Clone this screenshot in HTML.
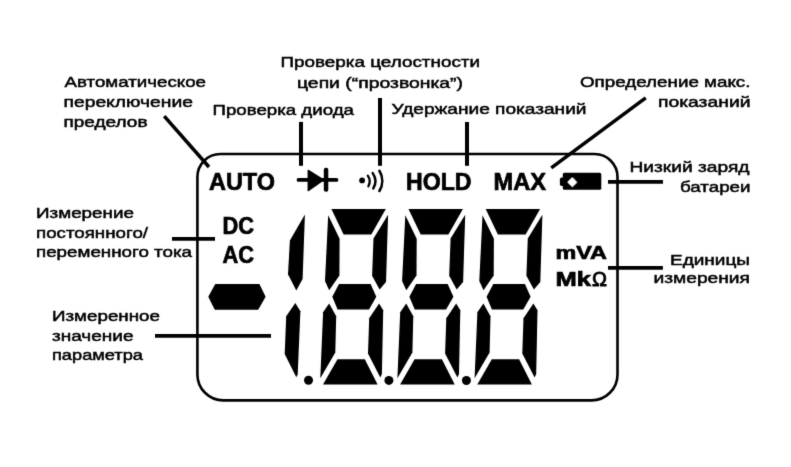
<!DOCTYPE html>
<html><head><meta charset="utf-8">
<style>
html,body{margin:0;padding:0;background:#fff;}
body{width:791px;height:467px;overflow:hidden;}
svg{display:block;}
.lb{font-family:"Liberation Sans",sans-serif;font-weight:normal;fill:#000;stroke:#000;stroke-width:0.5px;}
.lcd{font-family:"Liberation Sans",sans-serif;font-weight:bold;fill:#000;stroke:#000;stroke-width:0.7px;}
.om{font-family:"Liberation Sans",sans-serif;font-weight:normal;fill:#000;stroke:#000;stroke-width:0.9px;}
</style></head>
<body>
<svg width="791" height="467" viewBox="0 0 791 467">
<defs><filter id="soft" x="0" y="0" width="791" height="467" filterUnits="userSpaceOnUse"><feConvolveMatrix order="3" kernelMatrix="0.0114 0.0842 0.0114 0.0842 0.619 0.0842 0.0114 0.0842 0.0114" edgeMode="duplicate" preserveAlpha="false"/></filter></defs>
<rect x="0" y="0" width="791" height="467" fill="#fff"/>
<g filter="url(#soft)">
<!-- LCD frame -->
<path d="M220.4,154 L594.5,154 A23,23 0 0 1 617.5,177 L617.5,374.4 A26,26 0 0 1 591.5,400.4 L223.4,400.4 A26,26 0 0 1 197.4,374.4 L197.4,177 A23,23 0 0 1 220.4,154 Z" fill="none" stroke="#000" stroke-width="2.6"/>

<!-- leader lines -->
<g stroke="#000" fill="none">
<line x1="164.2" y1="116.2" x2="209" y2="167" stroke-width="3.5"/>
<line x1="301" y1="121.9" x2="301" y2="165.8" stroke-width="4"/>
<line x1="380" y1="98" x2="380" y2="165.8" stroke-width="4"/>
<line x1="467" y1="122" x2="467" y2="165.8" stroke-width="4"/>
<line x1="551.3" y1="167.8" x2="645.7" y2="97.8" stroke-width="3.5"/>
<line x1="608" y1="181.85" x2="663" y2="181.85" stroke-width="3.7"/>
<line x1="172" y1="238.9" x2="215" y2="238.9" stroke-width="3.75"/>
<line x1="155" y1="335.9" x2="271" y2="335.9" stroke-width="3.7"/>
<line x1="608" y1="267.9" x2="662.9" y2="267.9" stroke-width="3.6"/>
</g>

<!-- diode -->
<g fill="#000">
<rect x="296.6" y="178" width="41.8" height="3.8" rx="1.9"/>
<polygon points="308.2,170.3 323.5,179.9 308.2,190.6" stroke="#000" stroke-width="1.3" stroke-linejoin="round"/>
<rect x="323.8" y="167.8" width="4.5" height="23.9" rx="2"/>
</g>
<!-- continuity -->
<circle cx="362.1" cy="180.4" r="2.9" fill="#000"/>
<g fill="none" stroke="#000" stroke-linecap="round">
<path d="M367.8,175.6 A10.3,10.3 0 0 1 368.4,186.2" stroke-width="2.3"/>
<path d="M372.7,173.1 A14.3,14.3 0 0 1 373.3,188.4" stroke-width="2.5"/>
<path d="M379.4,170.8 A19.4,19.4 0 0 1 379.4,191" stroke-width="2.6"/>
</g>

<!-- battery -->
<g fill="#000">
<rect x="562.8" y="172.8" width="38.5" height="17" rx="1.6"/>
<rect x="559.9" y="177.4" width="5" height="8.6" rx="1.8"/>
</g>
<polygon points="572.3,178.3 576.2,182.2 572.3,186.1 568.4,182.2" fill="#fff" stroke="#fff" stroke-width="1.4" stroke-linejoin="round"/>

<!-- minus -->
<polygon points="208.9,296.8 215.6,284.6 259,284.6 265,296.8 258,309.1 215,309.1" fill="#000" stroke="#000" stroke-width="1.1" stroke-linejoin="round"/>

<!-- digits -->
<g fill="#000">
<polygon points="304.9,214.6 302.6,279 296.3,290.6 288,274.2 289.9,240.6"/>
<polygon points="295.3,303.1 300.4,311.2 297.7,374.2 296.3,377.2 284.7,353.9 286.2,316.3"/>
<circle cx="308.5" cy="380.3" r="4.5"/>
</g>
<g id="dg" fill="#000">
<polygon points="331.4,209.1 385.8,209.1 371.3,234.6 343.6,234.6"/>
<polygon points="328.2,215.3 339.6,238.8 339.4,275.6 329.2,290.2 325,281"/>
<polygon points="388.1,214.8 386,282 379.6,289.6 372.1,275.7 373.5,238.6"/>
<polygon points="332.3,296.8 339,284.1 370.6,284.1 376.3,296.8 369,309.6 337.6,309.6"/>
<polygon points="329.1,303.4 336.2,316.2 335.3,352.6 320.3,378.3 323.1,312.3"/>
<polygon points="337.5,359.3 364.8,359.3 377.6,384.4 323,384.4"/>
<polygon points="379.1,303.4 383.2,310.3 381.9,374 380.3,377.5 368,353.4 369.2,318.2"/>
</g>
<circle cx="388.9" cy="380.4" r="4.5"/>
<circle cx="466.4" cy="380.5" r="4.5"/>
<use href="#dg" x="77.1" y="0"/>
<use href="#dg" x="154.3" y="0"/>

<g class="lb">
<text x="64.5" y="86.9" font-size="15.4" textLength="141.5" lengthAdjust="spacingAndGlyphs">Автоматическое</text>
<text x="63.5" y="106.7" font-size="15.4" textLength="129.5" lengthAdjust="spacingAndGlyphs">переключение</text>
<text x="63.5" y="126.6" font-size="15.4" textLength="84.0" lengthAdjust="spacingAndGlyphs">пределов</text>
<text x="280.5" y="67.3" font-size="15.4" textLength="199.5" lengthAdjust="spacingAndGlyphs">Проверка целостности</text>
<text x="297.0" y="88" font-size="15.4" textLength="166.0" lengthAdjust="spacingAndGlyphs">цепи (“прозвонка”)</text>
<text x="212.5" y="114.5" font-size="15.4" textLength="141.5" lengthAdjust="spacingAndGlyphs">Проверка диода</text>
<text x="391.5" y="114.3" font-size="15.4" textLength="195.0" lengthAdjust="spacingAndGlyphs">Удержание показаний</text>
<text x="580.0" y="87" font-size="15.4" textLength="170.5" lengthAdjust="spacingAndGlyphs">Определение макс.</text>
<text x="658.0" y="107.3" font-size="15.4" textLength="92.5" lengthAdjust="spacingAndGlyphs">показаний</text>
<text x="629.5" y="172.4" font-size="15.4" textLength="120.0" lengthAdjust="spacingAndGlyphs">Низкий заряд</text>
<text x="680.0" y="192" font-size="15.4" textLength="70.5" lengthAdjust="spacingAndGlyphs">батареи</text>
<text x="36.0" y="217.6" font-size="15.4" textLength="98.0" lengthAdjust="spacingAndGlyphs">Измерение</text>
<text x="36.0" y="237.5" font-size="15.4" textLength="112.0" lengthAdjust="spacingAndGlyphs">постоянного/</text>
<text x="36.0" y="256.6" font-size="15.4" textLength="156.0" lengthAdjust="spacingAndGlyphs">переменного тока</text>
<text x="52.0" y="321.1" font-size="15.4" textLength="108.0" lengthAdjust="spacingAndGlyphs">Измеренное</text>
<text x="52.0" y="340.8" font-size="15.4" textLength="81.5" lengthAdjust="spacingAndGlyphs">значение</text>
<text x="52.0" y="359.8" font-size="15.4" textLength="91.0" lengthAdjust="spacingAndGlyphs">параметра</text>
<text x="670.0" y="264.5" font-size="15.4" textLength="80.0" lengthAdjust="spacingAndGlyphs">Единицы</text>
<text x="653.5" y="282.5" font-size="15.4" textLength="96.5" lengthAdjust="spacingAndGlyphs">измерения</text>
</g>
<g class="lcd">
<text x="209.0" y="189.8" font-size="23.2" textLength="66.0" lengthAdjust="spacingAndGlyphs">AUTO</text>
<text x="406.0" y="189.8" font-size="23.2" textLength="65.5" lengthAdjust="spacingAndGlyphs">HOLD</text>
<text x="493.5" y="189.7" font-size="23.2" textLength="52.5" lengthAdjust="spacingAndGlyphs">MAX</text>
<text x="222.5" y="233.8" font-size="23.2" textLength="31.5" lengthAdjust="spacingAndGlyphs">DC</text>
<text x="222.5" y="262.7" font-size="23.2" textLength="31.5" lengthAdjust="spacingAndGlyphs">AC</text>
<text x="555.5" y="258.8" font-size="18.6" textLength="51.5" lengthAdjust="spacingAndGlyphs">mVA</text>
<text x="555.5" y="286.4" font-size="19.3" textLength="35.5" lengthAdjust="spacingAndGlyphs">Mk</text>
</g>
<g class="om">
<text x="592.0" y="286.4" font-size="19.5" textLength="15.0" lengthAdjust="spacingAndGlyphs">Ω</text>
</g>
</g>
</svg>
</body></html>
